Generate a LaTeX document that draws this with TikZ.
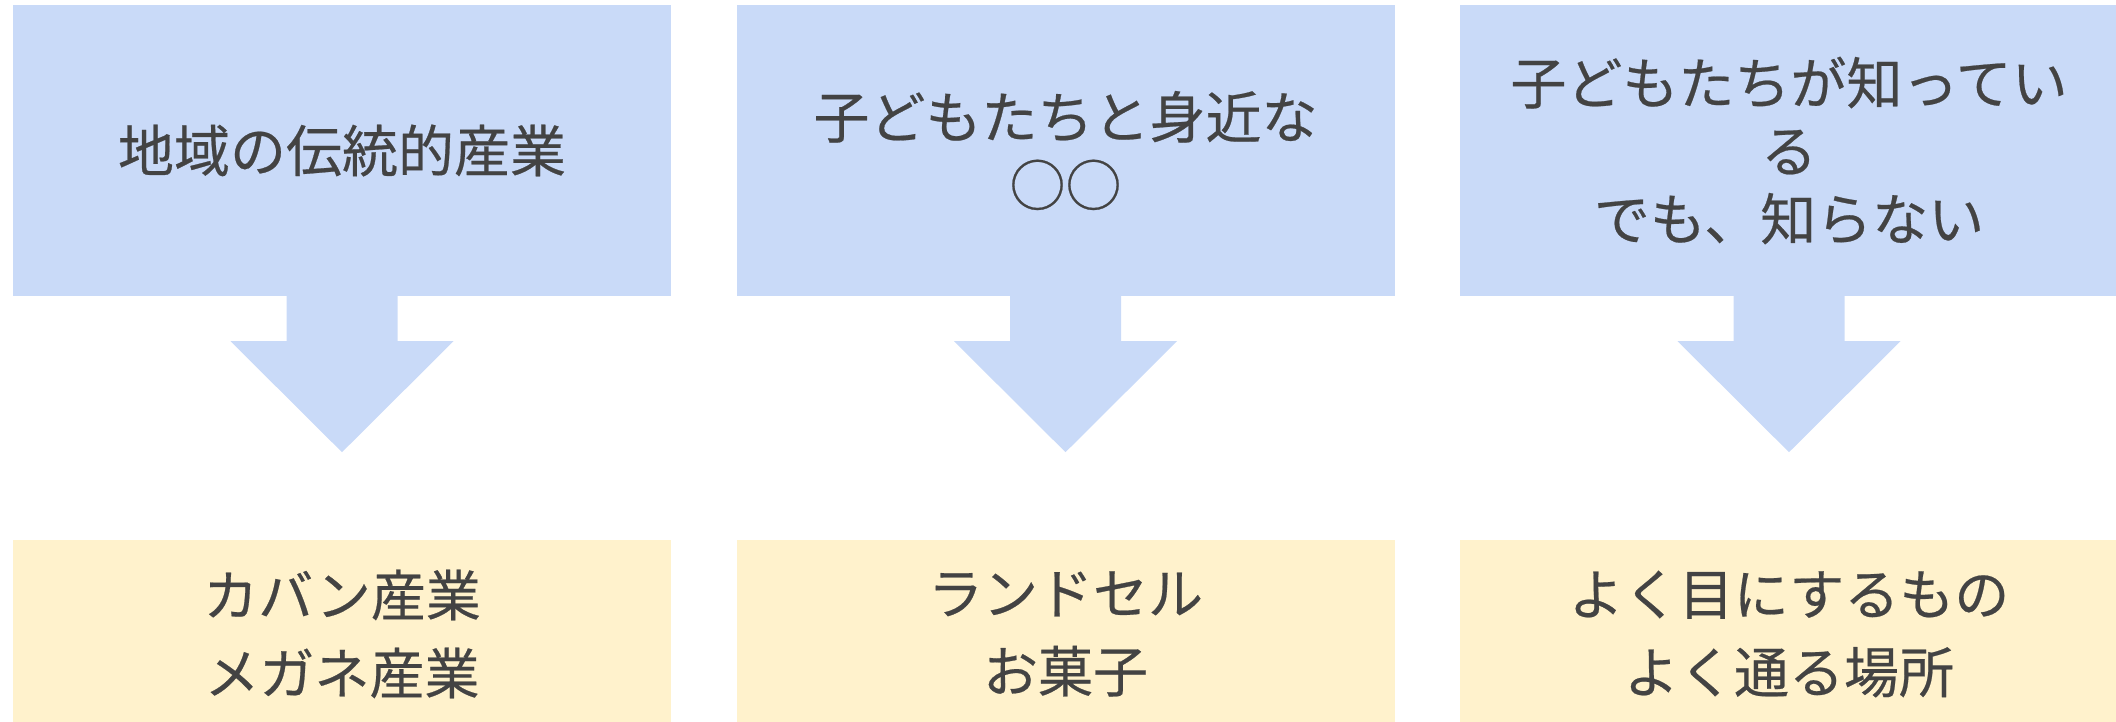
\documentclass[tikz,border=0pt]{standalone}
\usepackage{fontspec}
\setmainfont{Noto Sans CJK JP}
\newfontfamily\jpfont{Noto Sans CJK JP}[FakeBold=0.4]
\usetikzlibrary{calc}
\definecolor{topblue}{HTML}{C9DAF8}
\definecolor{botyellow}{HTML}{FFF2CC}
\definecolor{txt}{HTML}{434343}
\tikzset{
  topbox/.style={fill=topblue, draw=none, minimum width=658pt, minimum height=291pt, inner sep=0pt,
    align=center, text=txt, font=\jpfont\fontsize{56}{68}\selectfont},
  botbox/.style={fill=botyellow, draw=none, minimum width=658pt, minimum height=188pt, inner sep=0pt,
    align=center, text=txt, font=\jpfont\fontsize{55}{78}\selectfont},
  bigarrow/.style={fill=topblue, draw=none}
}
\begin{document}
\begin{tikzpicture}[x=1pt,y=-1pt]
\useasboundingbox (0,0) rectangle (2116,721);
\node[topbox] (t1) at (342,150.5) {地域の伝統的産業};
\node[topbox] (t2) at (1065.5,150.5) {子どもたちと身近な\\○○};
\node[topbox] (t3) at (1789,150.5) {子どもたちが知ってい\\る\\でも、知らない};
\node[botbox] (b1) at (342,634) {カバン産業\\メガネ産業};
\node[botbox] (b2) at (1065.5,634) {ランドセル\\お菓子};
\node[botbox] (b3) at (1789,634) {よく目にするもの\\よく通る場所};
\foreach \t in {t1,t2,t3}{
  \fill[bigarrow] ($(\t.south)+(-55.5,-2)$) -- ++(0,47) -- ++(-56,0)
     -- ($(\t.south)+(0,156)$) -- ($(\t.south)+(111.5,45)$) -- ++(-56,0) -- ++(0,-47) -- cycle;
}
\end{tikzpicture}
\end{document}
